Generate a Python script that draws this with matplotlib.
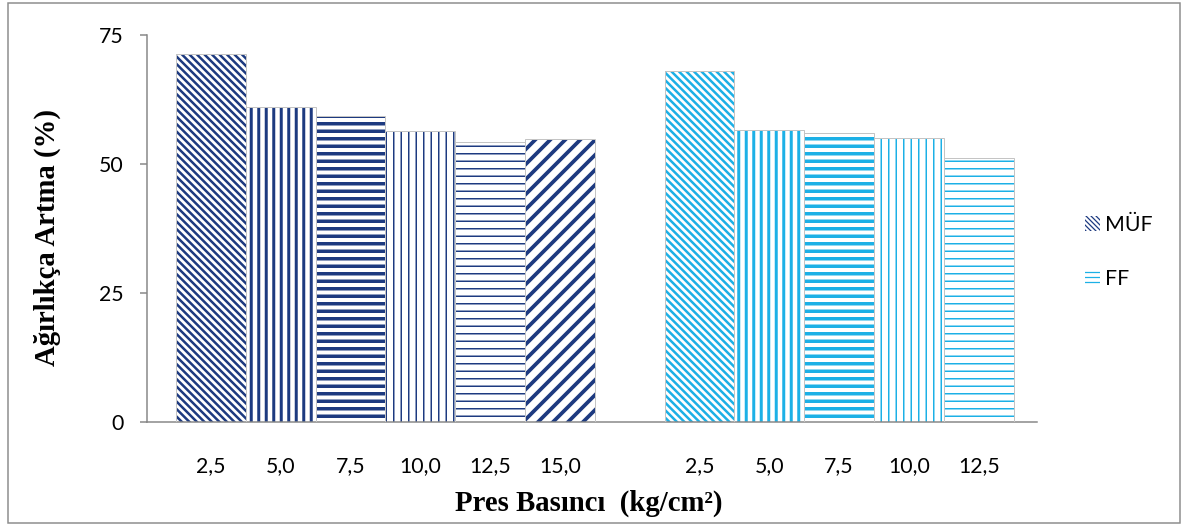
import matplotlib
matplotlib.use("Agg")
import matplotlib.pyplot as plt
from matplotlib.patches import Rectangle, Patch

# ---------------- data ----------------
muf_labels = ['2,5', '5,0', '7,5', '10,0', '12,5', '15,0']
muf_values = [71.3, 61.1, 59.3, 56.3, 54.3, 54.9]
ff_labels = ['2,5', '5,0', '7,5', '10,0', '12,5']
ff_values = [68.1, 56.5, 56.0, 55.0, 51.2]
series_names = ['MÜF', 'FF']
yticks = [0, 25, 50, 75]

# ---------------- style ----------------
NAVY = '#1d3a80'
CYAN = '#1cb0e6'
hatches = ['\\\\\\\\', '||', '--', '||', '--', '//']
hatch_lws = [2.0, 2.4, 2.8, 1.2, 1.2, 3.0]

W, H, DPI = 1184, 527, 90
fig = plt.figure(figsize=(W / DPI, H / DPI), dpi=DPI)
fig.patch.set_facecolor('white')

def px(x, y):
    return x / W, 1 - y / H

ax_l, ax_r, ax_t, ax_b = 147, 1037, 35, 422
ax = fig.add_axes([ax_l / W, 1 - ax_b / H, (ax_r - ax_l) / W, (ax_b - ax_t) / H])

muf_pos = list(range(len(muf_values)))
ff_pos = [len(muf_values) + 1 + i for i in range(len(ff_values))]

def draw_bars(positions, values, color):
    for i, (p, v) in enumerate(zip(positions, values)):
        with plt.rc_context({'hatch.linewidth': hatch_lws[i]}):
            b = ax.bar(p, v, width=1.0, facecolor='white', edgecolor=color,
                       linewidth=0, hatch=hatches[i], zorder=2)
        for patch in b:
            if hasattr(patch, 'set_hatch_linewidth'):
                patch.set_hatch_linewidth(hatch_lws[i])
        ax.bar(p, v, width=1.0, fill=False, edgecolor='#c4c4c4',
               linewidth=0.8, zorder=3)

draw_bars(muf_pos, muf_values, NAVY)
draw_bars(ff_pos, ff_values, CYAN)

slot = 69.8
ax.set_xlim(-0.5 - 29 / slot, -0.5 - 29 / slot + (ax_r - ax_l) / slot)
ax.set_ylim(0, 75)
ax.set_yticks(yticks)
ax.set_yticklabels([str(t) for t in yticks])
ax.set_xticks(muf_pos + ff_pos)
ax.set_xticklabels(muf_labels + ff_labels)

for s in ['top', 'right']:
    ax.spines[s].set_visible(False)
for s in ['left', 'bottom']:
    ax.spines[s].set_color('#868686')
    ax.spines[s].set_linewidth(1.2)

ax.tick_params(axis='y', direction='out', length=5.6, width=1.2, color='#868686',
               pad=13, labelsize=17, labelfontfamily='Lato')
ax.tick_params(axis='x', length=0, pad=27, labelsize=17, labelfontfamily='Lato')

# axis titles
fig.text(*px(589, 511), 'Pres Basıncı  (kg/cm²)', ha='center', va='baseline',
         fontfamily='Liberation Serif', fontweight='bold', fontsize=23)
fig.text(*px(47, 237), 'Ağırlıkça Artma (%)', ha='center', va='center', rotation=90,
         fontfamily='Liberation Serif', fontweight='bold', fontsize=23)

# legend
with plt.rc_context({'hatch.linewidth': 2.0}):
    handles = [Patch(facecolor='white', edgecolor=NAVY, hatch='\\\\\\\\\\\\', linewidth=0),
               Patch(facecolor='white', edgecolor=CYAN, hatch='---', linewidth=0)]
fig.legend(handles, series_names, loc='center left',
           bbox_to_anchor=px(1066, 252), frameon=False,
           prop={'family': 'Lato', 'size': 17},
           handlelength=0.7, handleheight=0.7, handletextpad=0.25, labelspacing=1.6)

# outer border
fig.add_artist(Rectangle(px(8, 523), (1180 - 8) / W, (523 - 3) / H,
                         transform=fig.transFigure, fill=False,
                         edgecolor='#8c8c8c', linewidth=1.2))

fig.savefig('out.png', dpi=DPI, facecolor='white')
